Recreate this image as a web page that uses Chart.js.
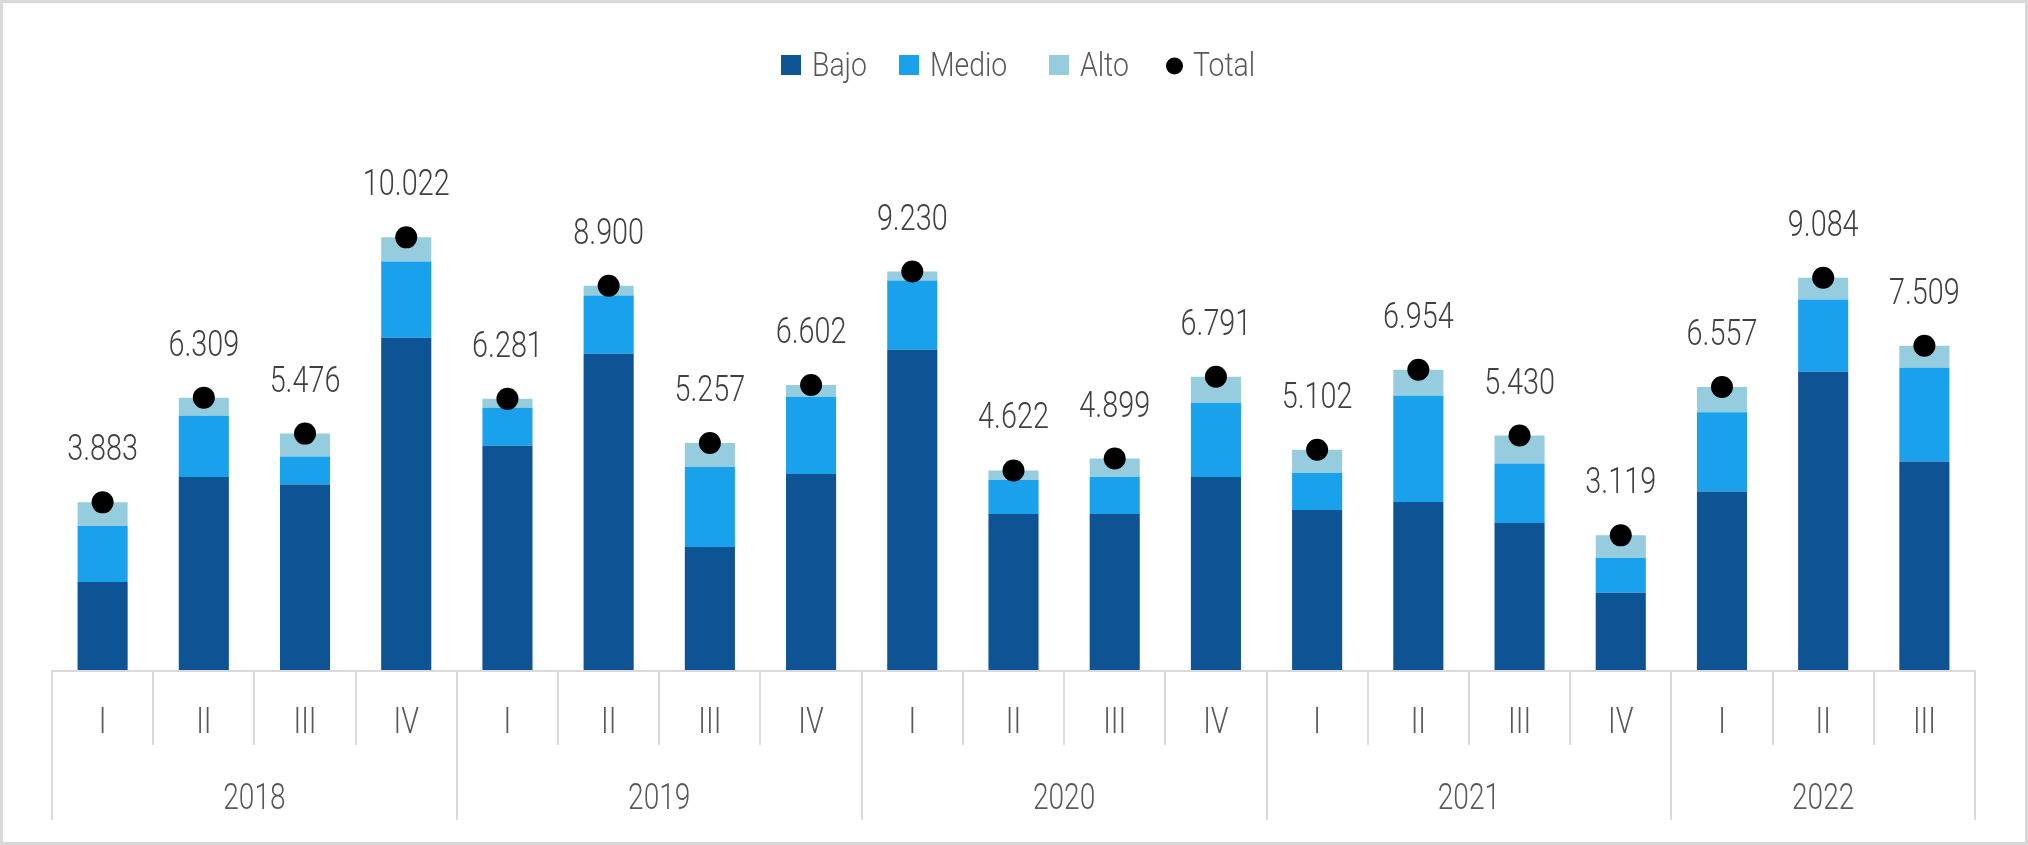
<!DOCTYPE html>
<html><head><meta charset="utf-8">
<script src="https://cdn.jsdelivr.net/npm/chart.js@4.4.0/dist/chart.umd.min.js"></script>
<style>html,body{margin:0;padding:0;background:#fff}canvas{display:block}</style>
</head><body>
<canvas id="c" width="2028" height="845"></canvas>
<script>
const quarters = ['I','II','III','IV','I','II','III','IV','I','II','III','IV','I','II','III','IV','I','II','III'];
const years = ['2018','2019','2020','2021','2022'];
const quartersPerYear = [4,4,4,4,3];
const bajo  = [2037,4473,4297,7698,5193,7327,2849,4543,7420,3615,3615,4473,3708,3893,3406,1791,4135,6910,4831];
const medio = [1299,1415,650,1763,882,1346,1856,1787,1601,789,858,1717,858,2459,1378,803,1833,1671,2172];
const alto  = [547,421,529,561,206,227,552,272,209,218,426,601,536,602,646,525,589,503,506];
const total = [3883,6309,5476,10022,6281,8900,5257,6602,9230,4622,4899,6791,5102,6954,5430,3119,6557,9084,7509];

const FAMILY = "Roboto, 'DejaVu Sans', sans-serif";
const GRID = '#d9d9d9';
const LEGEND_X = [781, 899, 1049, 1166];   // legend marker left edges
const fmt = v => String(v).replace(/\B(?=(\d{3})+(?!\d))/g, '.');

function text(ctx, s, x, y, align, color, size, sx) {
  ctx.save();
  ctx.translate(x, y);
  ctx.scale(sx, 1);
  ctx.font = '300 ' + size + 'px ' + FAMILY;
  ctx.fillStyle = color;
  ctx.textAlign = align;
  ctx.textBaseline = 'alphabetic';
  ctx.fillText(s, 0, 0);
  ctx.restore();
}

const extras = {
  id: 'extras',
  afterDraw(chart) {
    const ctx = chart.ctx;
    const x = chart.scales.x;
    const n = quarters.length;
    const half = (x.right - x.left) / n / 2;
    const base = chart.chartArea.bottom;
    ctx.save();
    ctx.strokeStyle = GRID; ctx.lineWidth = 3;
    ctx.strokeRect(1.5, 1.5, chart.width - 3, chart.height - 3);
    ctx.lineWidth = 2;
    ctx.beginPath(); ctx.moveTo(x.left, base + 1); ctx.lineTo(x.right, base + 1); ctx.stroke();
    const yearBounds = new Set([0]);
    let acc = 0;
    quartersPerYear.forEach(q => { acc += q; yearBounds.add(acc); });
    for (let i = 0; i <= n; i++) {
      const px = i < n ? x.getPixelForValue(i) - half : x.getPixelForValue(n - 1) + half;
      const yEnd = yearBounds.has(i) ? base + 150 : base + 75;
      ctx.beginPath(); ctx.moveTo(Math.round(px), base); ctx.lineTo(Math.round(px), yEnd); ctx.stroke();
    }
    ctx.restore();
    quarters.forEach((q, i) => text(ctx, q, x.getPixelForValue(i), base + 63, 'center', '#595959', 36, 0.8));
    let start = 0;
    years.forEach((yr, k) => {
      const end = start + quartersPerYear[k] - 1;
      const cx = (x.getPixelForValue(start) + x.getPixelForValue(end)) / 2;
      text(ctx, yr, cx, base + 139, 'center', '#595959', 36, 0.78);
      start = end + 1;
    });
    const meta = chart.getDatasetMeta(3);
    meta.data.forEach((pt, i) => text(ctx, fmt(total[i]), pt.x, pt.y - 42, 'center', '#404040', 36, 0.8));
    // legend
    const ds = chart.data.datasets;
    ds.forEach((d, i) => {
      const lx = LEGEND_X[i];
      ctx.save();
      if (d.type === 'line') {
        ctx.fillStyle = '#000';
        ctx.beginPath(); ctx.arc(lx + 8.5, 66, 8.5, 0, Math.PI * 2); ctx.fill();
        text(ctx, d.label, lx + 27, 76, 'left', '#595959', 33, 0.86);
      } else {
        ctx.fillStyle = d.backgroundColor;
        ctx.fillRect(lx, 55, 20, 20);
        text(ctx, d.label, lx + 31, 76, 'left', '#595959', 33, 0.86);
      }
      ctx.restore();
    });
  }
};

new Chart(document.getElementById('c'), {
  type: 'bar',
  data: {
    labels: quarters,
    datasets: [
      { label: 'Bajo', data: bajo, backgroundColor: '#0E5394', stack: 's', order: 1 },
      { label: 'Medio', data: medio, backgroundColor: '#19A1EC', stack: 's', order: 1 },
      { label: 'Alto', data: alto, backgroundColor: '#95CDDF', stack: 's', order: 1 },
      { label: 'Total', type: 'line', data: total, stack: 't', order: 0, showLine: false,
        pointRadius: 11, pointHoverRadius: 11, pointBackgroundColor: '#000', pointBorderWidth: 0,
        borderColor: '#000', backgroundColor: '#000' }
    ]
  },
  options: {
    responsive: false,
    animation: false,
    events: [],
    devicePixelRatio: 1,
    layout: { padding: { left: 52, right: 53, top: 98, bottom: 0 } },
    datasets: { bar: { categoryPercentage: 0.5, barPercentage: 0.99, borderWidth: 0 } },
    plugins: { legend: { display: false }, tooltip: { enabled: false } },
    scales: {
      x: {
        stacked: true,
        grid: { display: false, drawTicks: false },
        border: { display: false },
        ticks: { display: false },
        afterFit(s) { s.height = 175; }
      },
      y: { stacked: true, display: false, min: 0, max: 13250 }
    }
  },
  plugins: [extras]
});
</script>
</body></html>
